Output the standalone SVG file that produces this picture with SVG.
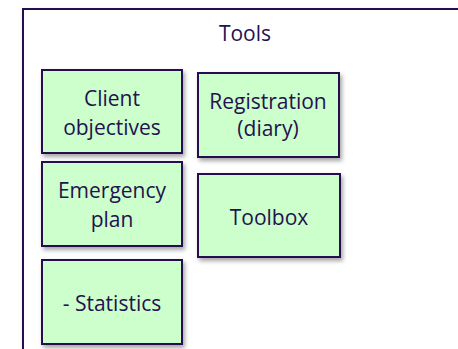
<svg xmlns="http://www.w3.org/2000/svg" width="458" height="349" viewBox="0 0 458 349">
<style>
.box{fill:#ccffcc;stroke:#25104f;stroke-width:2;filter:url(#sh)}
.frame{fill:#ffffff;stroke:#25104f;stroke-width:2;filter:url(#sh)}
text{font-family:"Open Sans","Liberation Sans",sans-serif;font-size:21px;fill:#24114f;text-anchor:middle}
</style>
<defs>
<filter id="sh" x="-10%" y="-10%" width="130%" height="130%">
<feDropShadow dx="2" dy="3" stdDeviation="2" flood-color="#000" flood-opacity="0.35"/>
</filter>
</defs>
<rect width="458" height="349" fill="#ffffff"/>
<g id="container">
<rect class="frame" x="23" y="9" width="470" height="370"/>
<text x="245" y="41">Tools</text>
</g>
<g id="client-objectives">
<rect class="box" x="42" y="70" width="140" height="83"/>
<text x="112" y="106">Client</text>
<text x="112" y="135">objectives</text>
</g>
<g id="registration">
<rect class="box" x="198" y="73" width="141" height="84"/>
<text x="268" y="109">Registration</text>
<text x="268" y="136">(diary)</text>
</g>
<g id="emergency-plan">
<rect class="box" x="42" y="162" width="140" height="84"/>
<text x="112" y="198">Emergency</text>
<text x="112" y="227">plan</text>
</g>
<g id="toolbox">
<rect class="box" x="198" y="174" width="142" height="83"/>
<text x="269" y="225">Toolbox</text>
</g>
<g id="statistics">
<rect class="box" x="42" y="260" width="140" height="84"/>
<text x="112" y="311">- Statistics</text>
</g>
<g id="connectors"/>
</svg>
